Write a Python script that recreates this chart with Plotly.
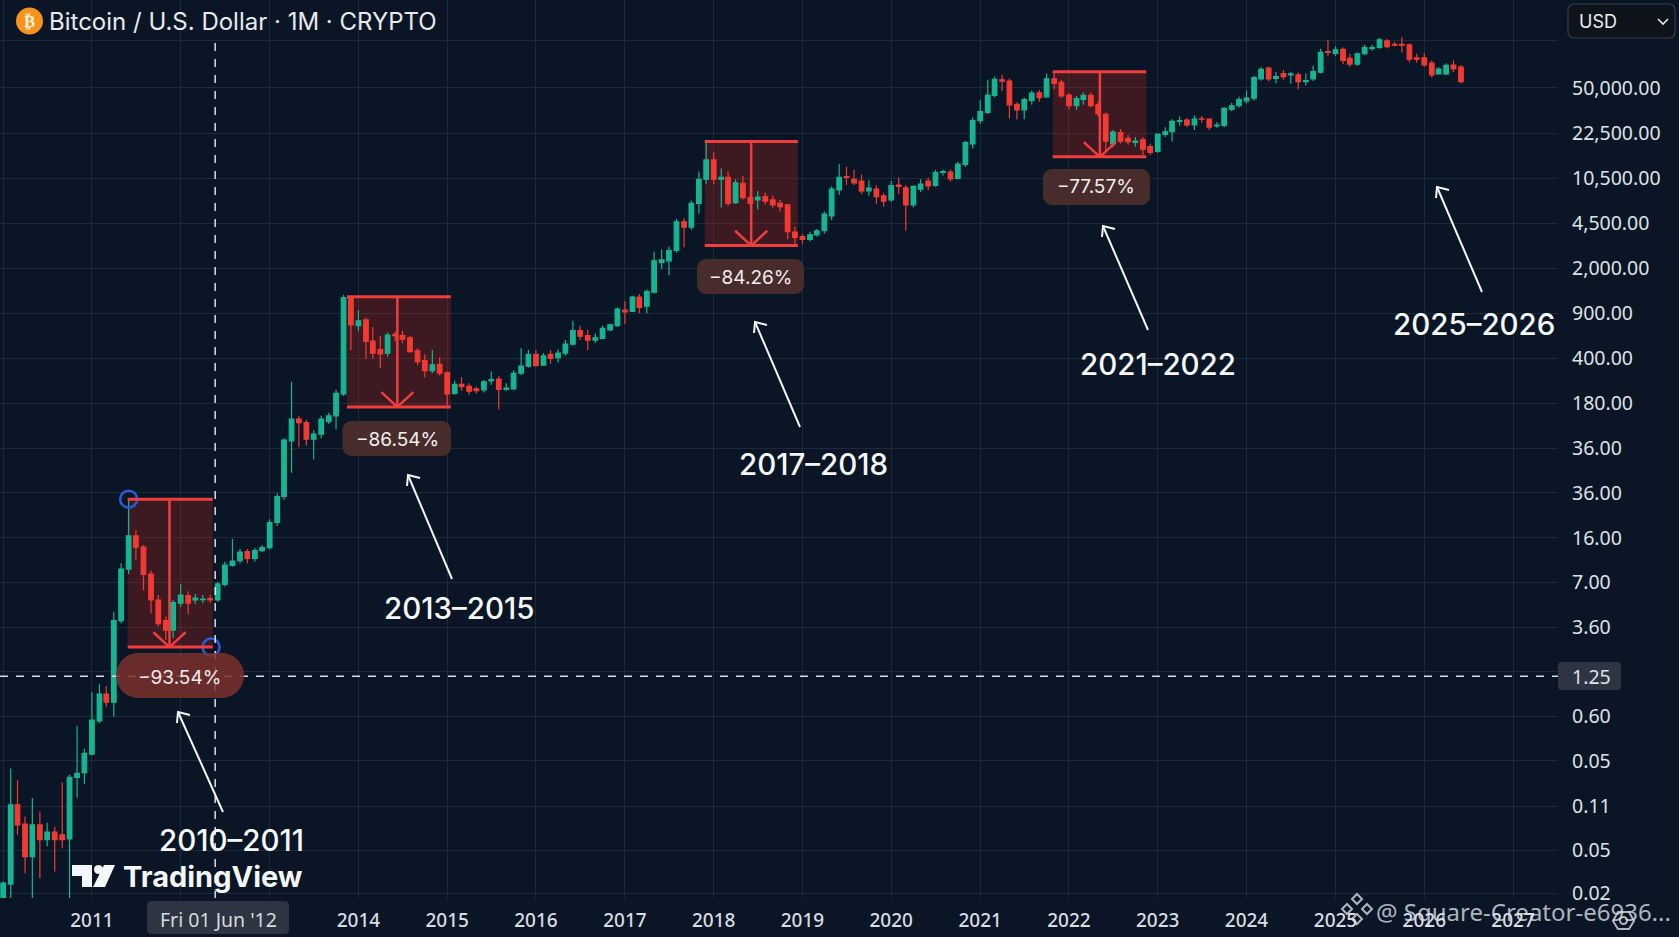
import pandas as pd
import plotly.graph_objects as go

# Monthly candles. The reference's price axis is not monotonic (its labels repeat), so the
# values are expressed as positions on that axis: v = number of label bands above "0.02".
first_month = "2010-01-01"
opens = [-0.12,0.23,2.00,1.57,0.84,1.55,1.22,1.39,1.33,1.24,2.61,2.72,3.13,3.87,4.47,4.29,6.11,7.26,8.00,7.75,
7.15,6.57,6.11,5.90,6.50,6.67,6.57,6.58,6.60,6.57,6.92,7.34,7.45,7.65,7.50,7.67,7.74,8.30,8.88,10.12,
10.61,10.53,10.16,10.27,10.55,10.68,11.17,13.32,12.69,12.82,12.35,12.16,12.08,12.50,12.47,12.42,12.13,11.91,11.69,11.83,
11.64,11.18,11.38,11.34,11.28,11.26,11.46,11.50,11.27,11.28,11.63,11.79,12.05,11.81,12.05,11.98,12.08,12.28,12.58,12.47,
12.37,12.41,12.60,12.69,13.04,13.01,13.33,13.13,13.44,14.10,14.14,14.37,15.01,14.89,15.42,15.96,16.39,15.96,16.00,15.44,
15.87,15.55,15.50,15.57,15.50,15.42,15.39,14.78,14.68,14.62,14.72,14.81,15.14,15.72,16.02,15.96,15.92,15.70,15.74,15.59,
15.50,15.83,15.77,15.39,15.74,15.92,15.82,16.11,16.12,15.98,16.29,16.75,17.27,17.45,17.83,18.18,18.15,17.63,17.51,17.72,
17.89,17.80,18.20,18.12,17.84,17.60,17.74,17.83,17.62,17.41,16.75,17.00,16.87,16.78,16.84,16.69,16.58,16.96,17.02,17.25,
17.28,17.17,17.31,17.30,17.15,17.16,17.52,17.60,17.71,17.77,18.20,18.44,18.21,18.32,18.29,18.29,18.14,18.20,18.35,18.81,
18.77,18.86,18.66,18.53,18.76,18.88,18.90,19.05,18.97,18.97,18.96,18.67,18.67,18.55,18.31,18.31,18.51,18.46]
highs = [0.28,2.81,2.55,1.74,2.15,1.85,1.60,1.51,2.50,2.67,3.76,3.25,4.51,4.69,4.65,6.30,7.39,8.82,8.13,7.80,
7.23,6.68,6.20,6.57,6.92,6.76,6.71,6.68,6.68,6.98,7.43,7.93,7.71,7.71,7.73,7.80,8.37,8.95,10.18,11.44,
10.68,10.59,10.36,10.68,10.75,11.26,13.38,13.35,13.04,12.87,12.66,12.47,12.54,12.56,12.58,12.46,12.19,12.05,12.15,11.99,
11.67,11.46,11.54,11.41,11.33,11.48,11.67,11.57,11.41,11.70,12.19,12.15,12.15,12.08,12.15,12.16,12.37,12.80,12.69,12.60,
12.52,12.69,12.74,13.10,13.24,13.36,13.40,13.50,14.34,14.40,14.46,15.07,15.09,15.48,16.13,16.80,16.56,16.20,16.13,15.96,
16.03,15.87,15.70,15.66,15.59,15.50,15.41,14.90,14.74,14.79,14.85,15.24,15.80,16.30,16.24,16.17,16.06,15.94,15.82,15.66,
15.92,16.00,15.83,15.82,15.96,16.00,16.17,16.18,16.17,16.35,16.82,17.34,17.73,18.18,18.25,18.29,18.21,17.67,17.78,17.94,
17.95,18.32,18.36,18.18,17.88,17.82,17.90,17.90,17.69,17.45,17.06,17.08,16.95,16.90,16.90,16.75,16.98,17.12,17.30,17.36,
17.32,17.38,17.37,17.32,17.23,17.57,17.66,17.80,17.94,18.27,18.46,18.47,18.36,18.40,18.35,18.34,18.32,18.49,18.87,19.07,
18.93,18.90,18.76,18.79,18.96,18.96,19.11,19.09,19.03,19.13,18.99,18.76,18.77,18.61,18.46,18.55,18.61,18.51]
lows = [-0.14,-0.09,1.33,0.47,-0.12,0.36,1.07,0.51,1.03,-0.12,2.15,2.47,3.11,3.82,4.18,3.97,6.05,7.15,7.46,6.79,
6.27,5.98,5.68,5.72,6.42,6.26,6.48,6.50,6.51,6.53,6.87,7.32,7.39,7.39,7.43,7.64,7.70,8.22,8.80,9.41,
9.98,10.01,9.71,10.18,10.50,10.38,11.12,12.15,12.57,11.95,11.96,11.74,12.00,12.34,12.30,12.09,11.81,11.54,11.63,11.58,
10.88,11.15,11.24,11.15,11.18,11.20,11.37,10.82,11.24,11.26,11.59,11.76,11.78,11.80,11.84,11.87,12.02,12.25,12.37,12.15,
12.31,12.39,12.57,12.66,12.73,13.00,12.97,12.97,13.41,13.95,13.82,14.32,14.44,14.83,15.19,15.85,15.85,15.33,15.36,15.41,
15.51,15.36,15.29,15.39,15.33,15.24,14.62,14.51,14.51,14.57,14.68,14.75,15.05,15.61,15.83,15.83,15.63,15.59,15.41,15.35,
15.46,15.63,14.81,15.33,15.67,15.71,15.79,16.04,15.91,15.96,16.24,16.65,17.19,17.42,17.79,17.93,17.32,17.30,17.30,17.62,
17.69,17.78,17.97,17.78,17.52,17.51,17.62,17.57,17.36,16.54,16.67,16.76,16.73,16.69,16.50,16.50,16.55,16.90,16.80,17.16,
17.12,17.06,17.22,17.06,17.11,17.12,17.48,17.56,17.65,17.71,18.16,18.14,18.10,18.18,18.09,17.97,18.05,18.15,18.32,18.70,
18.71,18.53,18.47,18.49,18.73,18.83,18.87,18.88,18.92,18.79,18.57,18.56,18.47,18.23,18.29,18.28,18.35,18.10]
closes = [0.25,2.00,1.55,0.84,1.55,1.22,1.39,1.22,1.22,2.61,2.70,3.15,3.89,4.47,4.29,6.11,7.26,8.00,7.75,7.14,
6.57,6.04,5.90,6.51,6.68,6.50,6.61,6.59,6.57,6.93,7.35,7.44,7.64,7.50,7.67,7.74,8.30,8.88,10.14,10.61,
10.53,10.16,10.27,10.61,10.68,11.18,13.32,12.71,12.80,12.34,12.08,12.06,12.48,12.47,12.39,12.11,11.89,11.69,11.82,11.63,
11.17,11.38,11.33,11.23,11.24,11.44,11.49,11.27,11.30,11.63,11.79,12.05,11.80,12.02,11.96,12.08,12.28,12.58,12.46,12.37,
12.42,12.63,12.71,13.06,13.00,13.33,13.10,13.45,14.14,14.16,14.37,15.01,14.89,15.42,15.96,16.39,15.96,16.00,15.42,15.88,
15.55,15.42,15.56,15.47,15.39,15.35,14.79,14.66,14.62,14.72,14.81,15.18,15.74,16.00,16.00,15.88,15.70,15.76,15.57,15.47,
15.82,15.80,15.39,15.80,15.85,15.81,16.11,16.13,15.97,16.30,16.78,17.27,17.47,17.84,18.19,18.15,17.62,17.51,17.74,17.88,
17.78,18.20,18.10,17.82,17.60,17.76,17.83,17.60,17.42,16.81,17.01,16.81,16.80,16.81,16.63,16.56,16.97,17.02,17.25,17.27,
17.17,17.30,17.30,17.12,17.17,17.54,17.60,17.74,17.77,18.23,18.41,18.20,18.25,18.25,18.31,18.14,18.16,18.36,18.79,18.79,
18.85,18.61,18.53,18.76,18.90,18.90,19.07,18.92,18.95,18.95,18.64,18.64,18.51,18.29,18.42,18.50,18.42,18.14]

price_labels = ["0.02","0.05","0.11","0.05","0.60","","3.60","7.00","16.00","36.00","36.00","180.00","400.00",
                "900.00","2,000.00","4,500.00","10,500.00","22,500.00","50,000.00",""]
price_bands = [0.02,0.99,1.97,2.98,3.98,4.98,5.96,6.96,7.96,8.96,9.96,10.96,11.96,12.97,13.97,14.97,15.98,16.98,18.00,19.05]
grid_years = list(range(2010, 2028))
year_labels = ["", "2011", "", "", "2014", "2015", "2016", "2017", "2018", "2019", "2020", "2021", "2022",
               "2023", "2024", "2025", "2026", "2027"]

# Drawdown measurements: start, middle, end, top band, bottom band, percentage
drop_start = ["2011-05-28", "2013-11-15", "2017-11-25", "2021-10-26"]
drop_mid = ["2011-11-16", "2014-06-10", "2018-06-04", "2022-05-08"]
drop_end = ["2012-05-12", "2015-01-16", "2018-12-13", "2022-11-15"]
drop_top = [8.82, 13.34, 16.80, 18.36]
drop_bottom = [5.52, 10.88, 14.48, 16.46]
drop_text = ["−93.54%", "−86.54%", "−84.26%", "−77.57%"]
handle_dates = ["2011-06-01", "2012-05-05"]
handle_bands = [8.82, 5.52]
cycle_text = ["2010–2011", "2013–2015", "2017–2018", "2021–2022", "2025–2026"]
cross_date = "2012-05-22"
cross_band = 4.87

W, H = 1679, 937
PW, PH = 1558, 898          # chart pane size
BG = "#0a1626"
GRID = "#1d2a3a"
UP, DOWN = "#17b491", "#f23a33"
RED = "#f23d3d"
SANS = "Inter"
NOTO = "Noto Sans"


def px(x):
    return x / PW


def py(y):
    return 1 - y / PH


def round_rect(x0, y0, x1, y1, r):
    p = lambda x, y: f"{px(x)} {py(y)}"
    k = r * 0.45
    return (f"M {p(x0 + r, y0)} L {p(x1 - r, y0)} C {p(x1 - k, y0)} {p(x1, y0 + k)} {p(x1, y0 + r)} L {p(x1, y1 - r)} "
            f"C {p(x1, y1 - k)} {p(x1 - k, y1)} {p(x1 - r, y1)} L {p(x0 + r, y1)} C {p(x0 + k, y1)} {p(x0, y1 - k)} {p(x0, y1 - r)} "
            f"L {p(x0, y0 + r)} C {p(x0, y0 + k)} {p(x0 + k, y0)} {p(x0 + r, y0)} Z")


def poly(points):
    return "M " + " L ".join(f"{px(x)} {py(y)}" for x, y in points) + " Z"


def polyline(points):
    return "M " + " L ".join(f"{px(x)} {py(y)}" for x, y in points)


shapes = []


def pshape(path, fill="rgba(0,0,0,0)", line=None, width=0):
    shapes.append(dict(type="path", xref="paper", yref="paper", path=path, fillcolor=fill,
                       line=dict(color=line or "rgba(0,0,0,0)", width=width), layer="above"))


def dline(x0, y0, x1, y1, color=RED, width=3, dash="solid", layer="above"):
    shapes.append(dict(type="line", xref="x", yref="y", x0=x0, y0=y0, x1=x1, y1=y1, layer=layer,
                       line=dict(color=color, width=width, dash=dash)))


# crosshair
CROSS = "rgba(236,238,240,0.92)"
dline(cross_date, 19.0, cross_date, -0.08, CROSS, 1.5, "8px,8px")
dline("2009-12-19", cross_band, "2027-07-05", cross_band, CROSS, 1.5, "8px,8px")

# drawdown boxes
for a, m, b, top, bot in zip(drop_start, drop_mid, drop_end, drop_top, drop_bottom):
    shapes.append(dict(type="rect", xref="x", yref="y", x0=a, x1=b, y0=bot, y1=top, layer="between",
                       fillcolor="rgba(210,40,25,0.26)", line=dict(width=0)))
    dline(a, top, b, top)
    dline(a, bot, b, bot)
    dline(m, top, m, bot, width=2.5)
    mid = pd.Timestamp(m)
    dline(mid - pd.Timedelta(days=66), bot + 0.33, m, bot, width=2.5)
    dline(mid + pd.Timedelta(days=66), bot + 0.33, m, bot, width=2.5)

# value badges
badges = [(116, 653, 244, 698, 22.5, "rgba(122,48,44,0.86)", 179, 677),
          (342.5, 421, 451, 456, 9, "#472c2b", 397, 439),
          (697, 259, 804, 294, 9, "#472c2b", 750, 277),
          (1043, 169, 1150, 205, 9, "#472c2b", 1096, 187)]
for x0, y0, x1, y1, r, c, _, _ in badges:
    pshape(round_rect(x0, y0, x1, y1, r), fill=c)

# white pointers from each cycle label
arrows = [((223, 812), (178, 712)), ((452, 579), (408, 475)), ((800, 427), (755, 322)),
          ((1148, 330), (1103, 226)), ((1482, 292), (1437, 187))]
for (tx, ty), (hx, hy) in arrows:
    pshape(polyline([(tx, ty), (hx, hy)]), line="#f4f5f6", width=2)
    pshape(polyline([(hx + 12, hy + 3), (hx, hy), (hx - 1, hy + 11)]), line="#f4f5f6", width=2)

# crosshair labels
pshape(round_rect(1558, 662, 1621, 690, 3), fill="#2c3541")
pshape(round_rect(147, 901, 289, 934, 4), fill="#2c3541")

# currency selector
pshape(round_rect(1568, 4, 1675, 38, 6), fill="#0f131b", line="#363c47", width=1.2)
pshape(polyline([(1658, 19), (1663, 24), (1668, 19)]), line="#e6e8ea", width=1.6)

# symbol icon
shapes.append(dict(type="circle", xref="paper", yref="paper", x0=px(16), x1=px(43), y0=py(34.5), y1=py(7.5),
                   fillcolor="#f7931a", line=dict(width=0), layer="above"))

# TradingView logo
LOGO = "#f5f6f7"
pshape(poly([(72, 865), (92, 865), (92, 887), (82, 887), (82, 876), (72, 876)]), fill=LOGO)
shapes.append(dict(type="circle", xref="paper", yref="paper", x0=px(94), x1=px(103), y0=py(874), y1=py(865),
                   fillcolor=LOGO, line=dict(width=0), layer="above"))
pshape(poly([(104, 865), (115, 865), (105, 887), (93, 887)]), fill=LOGO)

# publisher mark and settings icon
MARK = "rgba(222,226,230,0.78)"
for cx, cy, s in [(1357, 899, 5), (1347, 909, 5), (1367, 909, 5), (1357, 919, 5)]:
    pshape(poly([(cx, cy - s), (cx + s, cy), (cx, cy + s), (cx - s, cy)]), line=MARK, width=2)
pshape(poly([(1613, 921), (1618, 912), (1629, 912), (1634, 921), (1629, 929), (1618, 929)]), line=MARK, width=2)
shapes.append(dict(type="circle", xref="paper", yref="paper", x0=px(1620), x1=px(1627), y0=py(924), y1=py(917),
                   line=dict(color=MARK, width=2), layer="above"))

annotations = []


def label(text, x, y, size, color="#f2f3f4", font=SANS, weight=400, anchor="center"):
    annotations.append(dict(text=text, x=px(x), y=py(y), xref="paper", yref="paper", showarrow=False,
                            xanchor=anchor, yanchor="middle",
                            font=dict(size=size, color=color, family=font, weight=weight)))


for t, b in zip(drop_text, badges):
    label(t, b[6], b[7], 19, "#f3eeee")
for t, (x, y) in zip(cycle_text, [(231, 840), (459, 608), (813, 464), (1157.5, 364), (1473.5, 324)]):
    label(t, x, y, 29.5, "#f6f7f8", weight=500)
label("Bitcoin / U.S. Dollar · 1M · CRYPTO", 47, 21.5, 24, "#e8eaec", anchor="left")
label("₿", 29.5, 21, 17, "#fff1dc", font="DejaVu Sans", weight=700)
label("USD", 1577, 21, 18, "#eceef0", anchor="left")
label("1.25", 1591, 676, 19.5, "#dfe2e5", font=NOTO)
label("Fri 01 Jun '12", 218, 919, 19.5, "#d7dade", font=NOTO)
label("TradingView", 213, 876, 29, LOGO, weight=700)
label("@ Square-Creator-e6936...", 1523, 911, 24, MARK, font=NOTO)

fig = go.Figure()
fig.add_trace(go.Candlestick(
    x=pd.date_range(first_month, periods=len(opens), freq="MS"),
    open=opens, high=highs, low=lows, close=closes,
    increasing=dict(line=dict(color=UP, width=1.2), fillcolor=UP),
    decreasing=dict(line=dict(color=DOWN, width=1.2), fillcolor=DOWN),
    whiskerwidth=0, showlegend=False, hoverinfo="skip"))

# draggable end points of the first measurement
fig.add_trace(go.Scatter(
    x=handle_dates, y=handle_bands, mode="markers", showlegend=False,
    hoverinfo="skip", marker=dict(symbol="circle-open", size=17, color="#2a5bd8", line=dict(width=2.5, color="#2a5bd8"))))

fig.update_layout(
    width=W, height=H, autosize=False, margin=dict(l=0, r=W - PW, t=0, b=H - PH),
    paper_bgcolor=BG, plot_bgcolor=BG, showlegend=False, boxgap=0.18, boxgroupgap=0.18,
    shapes=shapes, annotations=annotations,
    font=dict(family=NOTO, color="#d9dce0"),
    xaxis=dict(type="date", range=["2009-12-19", "2027-07-05"], rangeslider=dict(visible=False),
               tickmode="array", tickvals=[f"{y}-01-01" for y in grid_years], ticktext=year_labels,
               showgrid=True, gridcolor=GRID, gridwidth=1, zeroline=False, showline=False,
               ticks="", ticklabelstandoff=9, tickfont=dict(size=19, color="#d9dce0", family=NOTO, weight=500)),
    yaxis=dict(side="right", range=[-0.08, 19.96], tickmode="array", tickvals=price_bands, ticktext=price_labels,
               showgrid=True, gridcolor=GRID, gridwidth=1, zeroline=False, showline=False,
               ticks="", ticklabelstandoff=13, tickfont=dict(size=19.5, color="#dfe2e5", family=NOTO)),
)

fig.write_html("out.html", config=dict(displayModeBar=False),
               post_script="document.body.style.margin='0';document.body.style.background='#0a1626';")
